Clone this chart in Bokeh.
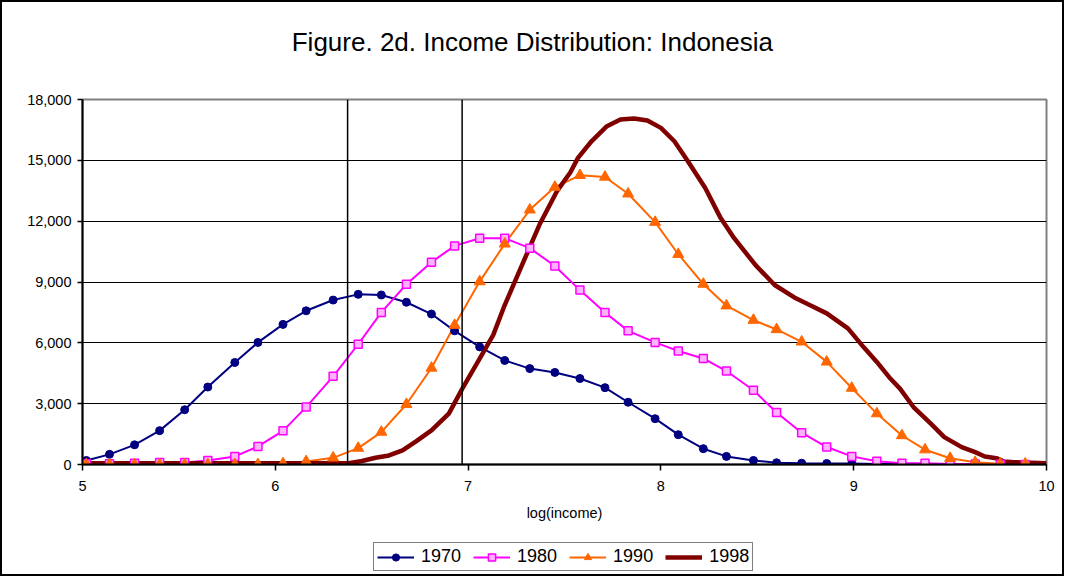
from bokeh.plotting import figure
from bokeh.layouts import column
from bokeh.models import (Span, Label, Legend, LegendItem, NumeralTickFormatter,
                          FixedTicker, Range1d)
from bokeh.embed import file_html
from bokeh.resources import INLINE

# ---------------- data ----------------
title_text = "Figure. 2d. Income Distribution: Indonesia"
x_label = "log(income)"
x_ticks = [5, 6, 7, 8, 9, 10]
y_ticks = [0, 3000, 6000, 9000, 12000, 15000, 18000]
ref_lines = [6.375, 6.969]
series_names = ["1970", "1980", "1990", "1998"]

x_grid = [5.02, 5.14, 5.27, 5.40, 5.53, 5.65, 5.79, 5.91, 6.04, 6.16,
          6.30, 6.43, 6.55, 6.68, 6.81, 6.93, 7.06, 7.19, 7.32, 7.45,
          7.58, 7.71, 7.83, 7.97, 8.09, 8.22, 8.34, 8.48, 8.60, 8.73,
          8.86, 8.99, 9.12, 9.25, 9.37, 9.50, 9.63, 9.76, 9.89]

y_1970 = [200, 500, 970, 1670, 2700, 3820, 5030, 6020, 6910, 7580,
          8110, 8390, 8360, 8000, 7420, 6590, 5800, 5130, 4730, 4540,
          4240, 3790, 3070, 2260, 1470, 780, 400, 200, 85, 65,
          50, 50, 30, 20, 10, 5, 0, 0, 0]

y_1980 = [40, 40, 60, 100, 100, 200, 400, 890, 1660, 2830,
          4350, 5930, 7500, 8890, 9980, 10780, 11160, 11160, 10670, 9790,
          8600, 7500, 6590, 6020, 5600, 5230, 4610, 3660, 2560, 1570,
          860, 400, 160, 65, 65, 30, 20, 10, 0]

y_1990 = [0, 0, 0, 0, 0, 0, 0, 0, 50, 150,
          330, 810, 1600, 2970, 4760, 6870, 9020, 10880, 12560, 13680,
          14260, 14180, 13350, 11950, 10370, 8900, 7830, 7120, 6660, 6050,
          5060, 3770, 2510, 1430, 730, 310, 110, 35, 35]

x_1998 = [5.00, 5.50, 6.00, 6.30, 6.38, 6.45, 6.52, 6.59, 6.66, 6.73,
          6.81, 6.90, 6.97, 7.06, 7.13, 7.19, 7.28, 7.37, 7.46, 7.53,
          7.57, 7.64, 7.72, 7.79, 7.86, 7.93, 8.00, 8.07, 8.14, 8.23,
          8.31, 8.38, 8.49, 8.59, 8.70, 8.79, 8.86, 8.97, 9.05, 9.12,
          9.19, 9.24, 9.31, 9.40, 9.47, 9.56, 9.63, 9.68, 9.74, 9.78,
          9.83, 10.00]
y_1998 = [60, 60, 60, 60, 64, 170, 330, 445, 692, 1140,
          1681, 2507, 3744, 5227, 6380, 7864, 9842, 11820, 13467, 14400,
          15119, 15940, 16683, 17013, 17062, 16963, 16600, 15940, 14951, 13635,
          12151, 11162, 9842, 8853, 8195, 7780, 7453, 6711, 5801, 5059,
          4238, 3744, 2834, 2013, 1350, 856, 608, 396, 312, 148,
          114, 64]

FONT = "Liberation Sans"
BORDER = "2px solid black"
C70, C80, C90, C98 = "#000080", "#FF00FF", "#FF6600", "#800000"
FW = 960          # frame width shared by all three strips
BL, BR = 80, 20   # left / right borders shared by all three strips


def strip(h, xr, yr):
    f = figure(frame_width=FW, frame_height=h, x_range=xr, y_range=yr,
               x_axis_type=None, y_axis_type=None, output_backend="svg",
               toolbar_location=None, min_border_left=BL,
               min_border_right=BR, min_border_top=0, min_border_bottom=0)
    f.outline_line_color = None
    f.background_fill_color = "white"
    f.border_fill_color = "white"
    return f


# ---------------- title strip ----------------
TOP_H = 80
p0 = strip(TOP_H, Range1d(0, FW), Range1d(0, TOP_H))
p0.styles = {"border-top": BORDER, "border-left": BORDER,
             "border-right": BORDER, "box-sizing": "content-box"}
p0.add_layout(Label(x=448, y=41, text=title_text, text_align="center",
                    text_baseline="alphabetic", text_font=FONT,
                    text_font_size="26px", text_color="black"))

# ---------------- main chart ----------------
p = figure(frame_width=FW, frame_height=365,
           x_range=Range1d(5, 10), y_range=Range1d(0, 18000),
           output_backend="svg", toolbar_location=None,
           min_border_left=BL, min_border_right=BR,
           min_border_top=17, min_border_bottom=64)
p.styles = {"border-left": BORDER, "border-right": BORDER,
            "box-sizing": "content-box"}
p.background_fill_color = "white"
p.border_fill_color = "white"
p.outline_line_color = "#808080"
p.outline_line_width = 2

p.xgrid.grid_line_color = None
p.ygrid.grid_line_color = "black"
p.ygrid.grid_line_width = 1.2
p.ygrid.ticker = FixedTicker(ticks=y_ticks)

p.xaxis.ticker = FixedTicker(ticks=x_ticks)
p.yaxis.ticker = FixedTicker(ticks=y_ticks)
p.yaxis.formatter = NumeralTickFormatter(format="0,0")
for ax in (p.xaxis[0], p.yaxis[0]):
    ax.axis_line_color = "black"
    ax.axis_line_width = 2
    ax.major_tick_line_color = "black"
    ax.major_tick_line_width = 1.5
    ax.minor_tick_line_color = None
    ax.major_tick_in = 0
    ax.major_label_text_font = FONT
    ax.major_label_text_font_size = "14.5px"
    ax.major_label_text_color = "black"
p.xaxis.major_tick_out = 6
p.xaxis.major_label_standoff = 10
p.yaxis.major_tick_out = 5
p.yaxis.major_label_standoff = 6
p.xaxis.axis_label = x_label
p.xaxis.axis_label_text_font = FONT
p.xaxis.axis_label_text_font_style = "normal"
p.xaxis.axis_label_text_font_size = "14.5px"
p.xaxis.axis_label_text_color = "black"
p.xaxis.axis_label_standoff = 11

for xv in ref_lines:
    p.add_layout(Span(location=xv, dimension="height", line_color="black",
                      line_width=1.5))


def add_series(fig):
    """Draw the four series on fig; returns (line, marker) renderers."""
    l70 = fig.line(x_grid, y_1970, line_color=C70, line_width=2)
    l80 = fig.line(x_grid, y_1980, line_color=C80, line_width=2)
    l90 = fig.line(x_grid, y_1990, line_color=C90, line_width=2)
    l98 = fig.line(x_1998, y_1998, line_color=C98, line_width=4.5)
    m70 = fig.scatter(x_grid, y_1970, marker="circle", size=8,
                      fill_color=C70, line_color=C70)
    m80 = fig.scatter(x_grid, y_1980, marker="square", size=8,
                      fill_color="#FFB3FF", line_color=C80, line_width=1.5)
    m90 = fig.scatter(x_grid, y_1990, marker="triangle", size=11,
                      fill_color=C90, line_color=C90)
    return [[l70, m70], [l80, m80], [l90, m90], [l98]]


add_series(p)

# ---------------- legend strip ----------------
# The same series are attached here only as legend keys; this strip's ranges
# lie outside the data, so nothing but the legend is visible in it.
BOT_H = 46
p2 = strip(BOT_H, Range1d(-2, -1), Range1d(-2, -1))
p2.styles = {"border-bottom": BORDER, "border-left": BORDER,
             "border-right": BORDER, "box-sizing": "content-box"}
keys = add_series(p2)

legend = Legend(items=[LegendItem(label=n, renderers=r)
                       for n, r in zip(series_names, keys)],
                location=(291, 5), orientation="horizontal")
legend.label_text_font = FONT
legend.label_text_font_size = "18px"
legend.label_text_color = "black"
legend.glyph_width = 37
legend.glyph_height = 18
legend.label_standoff = 7
legend.spacing = 12
legend.padding = 3
legend.margin = 0
legend.border_line_color = "black"
legend.border_line_width = 1.5
legend.background_fill_alpha = 1
p2.add_layout(legend, "center")

layout = column(p0, p, p2, spacing=0)
open("out.html", "w").write(file_html(layout, INLINE))
